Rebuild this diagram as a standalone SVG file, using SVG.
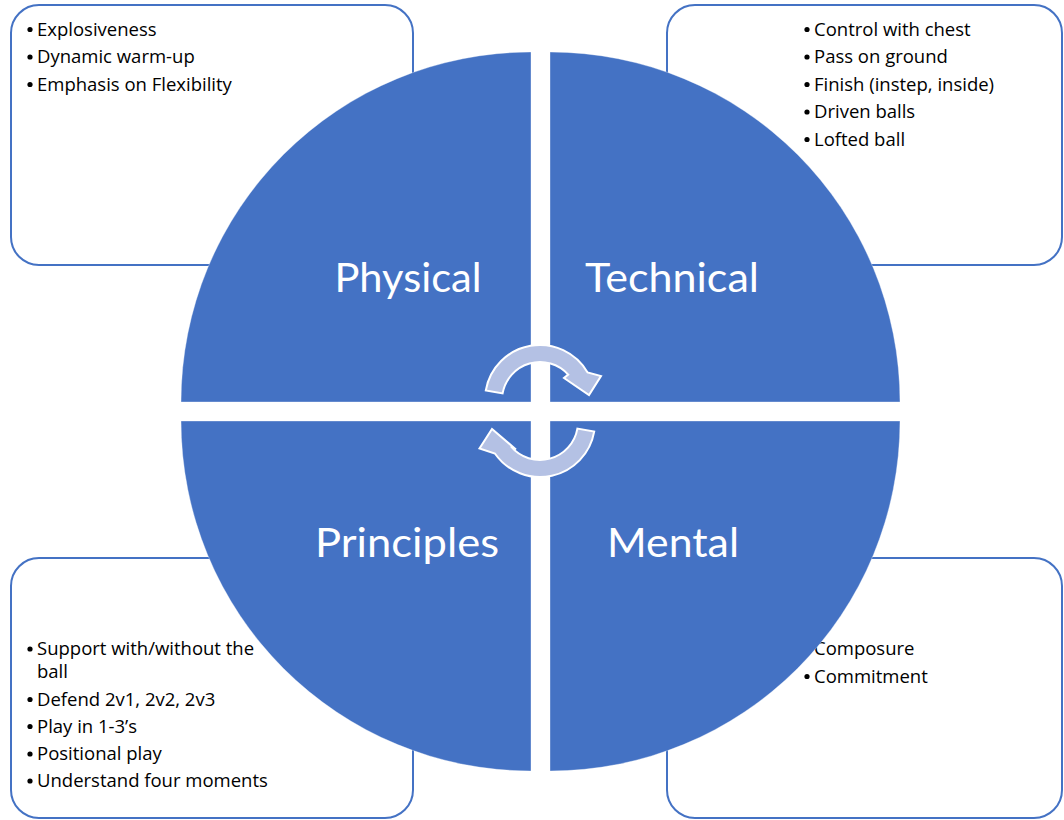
<svg xmlns="http://www.w3.org/2000/svg" width="1064" height="820" viewBox="0 0 1064 820">
  <style>
    .box { fill: #ffffff; stroke: #4472C4; stroke-width: 2; }
    .item { font-family: "Open Sans", Lato, "Liberation Sans", sans-serif; font-size: 18.5px; fill: #000000; }
    .dot { fill: #000000; }
    .quad { fill: #4472C4; stroke: #ffffff; stroke-width: 1; stroke-opacity: 0.35; }
    .label { font-family: Lato, "Open Sans", "Liberation Sans", sans-serif; font-weight: 400; font-size: 41px; fill: #ffffff; text-anchor: middle; }
    .cycle { fill: #B4C1E4; stroke: #ffffff; stroke-width: 2; stroke-linejoin: miter; }
  </style>
  <rect width="1064" height="820" fill="#ffffff"/>

  <!-- detail boxes, drawn beneath the circle -->
  <g id="physical-notes">
    <rect class="box" x="11" y="5" width="402" height="260" rx="28"/>
    <circle class="dot" cx="30" cy="29.5" r="2.6"/>
    <text class="item" x="37" y="35.7">Explosiveness</text>
    <circle class="dot" cx="30" cy="57" r="2.6"/>
    <text class="item" x="37" y="63.2">Dynamic warm-up</text>
    <circle class="dot" cx="30" cy="84.5" r="2.6"/>
    <text class="item" x="37" y="90.7">Emphasis on Flexibility</text>
  </g>

  <g id="technical-notes">
    <rect class="box" x="667" y="5" width="395" height="260" rx="28"/>
    <circle class="dot" cx="807" cy="29.5" r="2.6"/>
    <text class="item" x="814" y="35.7">Control with chest</text>
    <circle class="dot" cx="807" cy="57" r="2.6"/>
    <text class="item" x="814" y="63.2">Pass on ground</text>
    <circle class="dot" cx="807" cy="84.5" r="2.6"/>
    <text class="item" x="814" y="90.7">Finish (instep, inside)</text>
    <circle class="dot" cx="807" cy="112" r="2.6"/>
    <text class="item" x="814" y="118.2">Driven balls</text>
    <circle class="dot" cx="807" cy="139.5" r="2.6"/>
    <text class="item" x="814" y="145.7">Lofted ball</text>
  </g>

  <g id="principles-notes">
    <rect class="box" x="11" y="558" width="402" height="260" rx="28"/>
    <circle class="dot" cx="30" cy="649" r="2.6"/>
    <text class="item" x="37" y="655">Support with/without the</text>
    <text class="item" x="37" y="678">ball</text>
    <circle class="dot" cx="30" cy="699.5" r="2.6"/>
    <text class="item" x="37" y="705.7">Defend 2v1, 2v2, 2v3</text>
    <circle class="dot" cx="30" cy="726.5" r="2.6"/>
    <text class="item" x="37" y="732.7">Play in 1-3’s</text>
    <circle class="dot" cx="30" cy="754" r="2.6"/>
    <text class="item" x="37" y="760">Positional play</text>
    <circle class="dot" cx="30" cy="781" r="2.6"/>
    <text class="item" x="37" y="787.3">Understand four moments</text>
  </g>

  <g id="mental-notes">
    <rect class="box" x="667" y="558" width="395" height="260" rx="28"/>
    <circle class="dot" cx="807" cy="649" r="2.6"/>
    <text class="item" x="814" y="655">Composure</text>
    <circle class="dot" cx="807" cy="676.5" r="2.6"/>
    <text class="item" x="814" y="682.7">Commitment</text>
  </g>

  <!-- the four quarter segments of the circle -->
  <g id="physical">
    <path class="quad" d="M531 402 L181 402 A350 350 0 0 1 531 52 Z"/>
    <text class="label" x="408" y="292.3" textLength="147" lengthAdjust="spacingAndGlyphs">Physical</text>
  </g>
  <g id="technical">
    <path class="quad" d="M550 402 L550 52 A350 350 0 0 1 900 402 Z"/>
    <text class="label" x="672" y="292.3" textLength="174" lengthAdjust="spacingAndGlyphs">Technical</text>
  </g>
  <g id="principles">
    <path class="quad" d="M531 421 L531 771 A350 350 0 0 1 181 421 Z"/>
    <text class="label" x="407" y="557.3" textLength="184" lengthAdjust="spacingAndGlyphs">Principles</text>
  </g>
  <g id="mental">
    <path class="quad" d="M550 421 L900 421 A350 350 0 0 1 550 771 Z"/>
    <text class="label" x="673" y="557.3" textLength="132" lengthAdjust="spacingAndGlyphs">Mental</text>
  </g>

  <!-- circular arrows in the centre -->
  <g id="connectors">
    <path class="cycle" d="M485.8 390.4 A55 55 0 0 1 587.6 372.5 L601 376 L589 395 L564 378 L568.2 374.6 A38 38 0 0 0 502.6 393.4 Z"/>
    <path class="cycle" d="M594.2 431.6 A55 55 0 0 1 494.9 453.5 L479.5 448.5 L492 429 L516 449.5 L510.9 446.4 A38 38 0 0 0 577.4 428.6 Z"/>
  </g>
</svg>
